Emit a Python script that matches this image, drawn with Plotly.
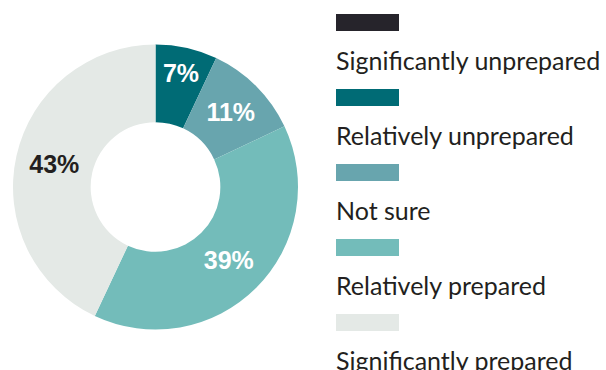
import plotly.graph_objects as go

W, H = 606, 370

# Survey answers, in display order
categories = [
    "Significantly unprepared",
    "Relatively unprepared",
    "Not sure",
    "Relatively prepared",
    "Significantly prepared",
]
shares = [0, 7, 11, 39, 43]
colors = ["#26242b", "#006b75", "#68a5ae", "#73bcba", "#e4e9e6"]
label_colors = ["#ffffff", "#ffffff", "#ffffff", "#ffffff", "#231f20"]

slice_text = [f"{v}%" if v else "" for v in shares]


def px_x(x):
    return x / W


def px_y(y):
    return 1 - y / H


fig = go.Figure(
    go.Pie(
        labels=categories,
        values=shares,
        text=slice_text,
        textinfo="text",
        textposition="inside",
        insidetextorientation="horizontal",
        textfont=dict(family="Liberation Sans, Arial, sans-serif", size=25,
                      color=label_colors, weight="bold"),
        marker=dict(colors=colors, line=dict(width=0)),
        hole=0.455,
        sort=False,
        direction="clockwise",
        rotation=0,
        showlegend=False,
        domain=dict(x=[px_x(13), px_x(298)], y=[px_y(330), px_y(44)]),
        hoverinfo="label+percent",
    )
)

# Legend: swatch above each label
shapes = []
annotations = []
step = 75
for i, (name, col) in enumerate(zip(categories, colors)):
    top = 14 + step * i
    shapes.append(dict(
        type="rect", xref="paper", yref="paper",
        x0=px_x(336), x1=px_x(399), y0=px_y(top + 17), y1=px_y(top),
        fillcolor=col, line=dict(width=0), layer="above",
    ))
    annotations.append(dict(
        xref="paper", yref="paper", x=px_x(334), y=px_y(top + 46),
        xanchor="left", yanchor="middle", showarrow=False,
        text=name, font=dict(family="Lato, sans-serif", size=25, color="#231f20"),
    ))

fig.update_layout(
    width=W, height=H,
    margin=dict(l=0, r=0, t=0, b=0),
    paper_bgcolor="white",
    plot_bgcolor="white",
    shapes=shapes,
    annotations=annotations,
)

fig.write_html("out.html")
